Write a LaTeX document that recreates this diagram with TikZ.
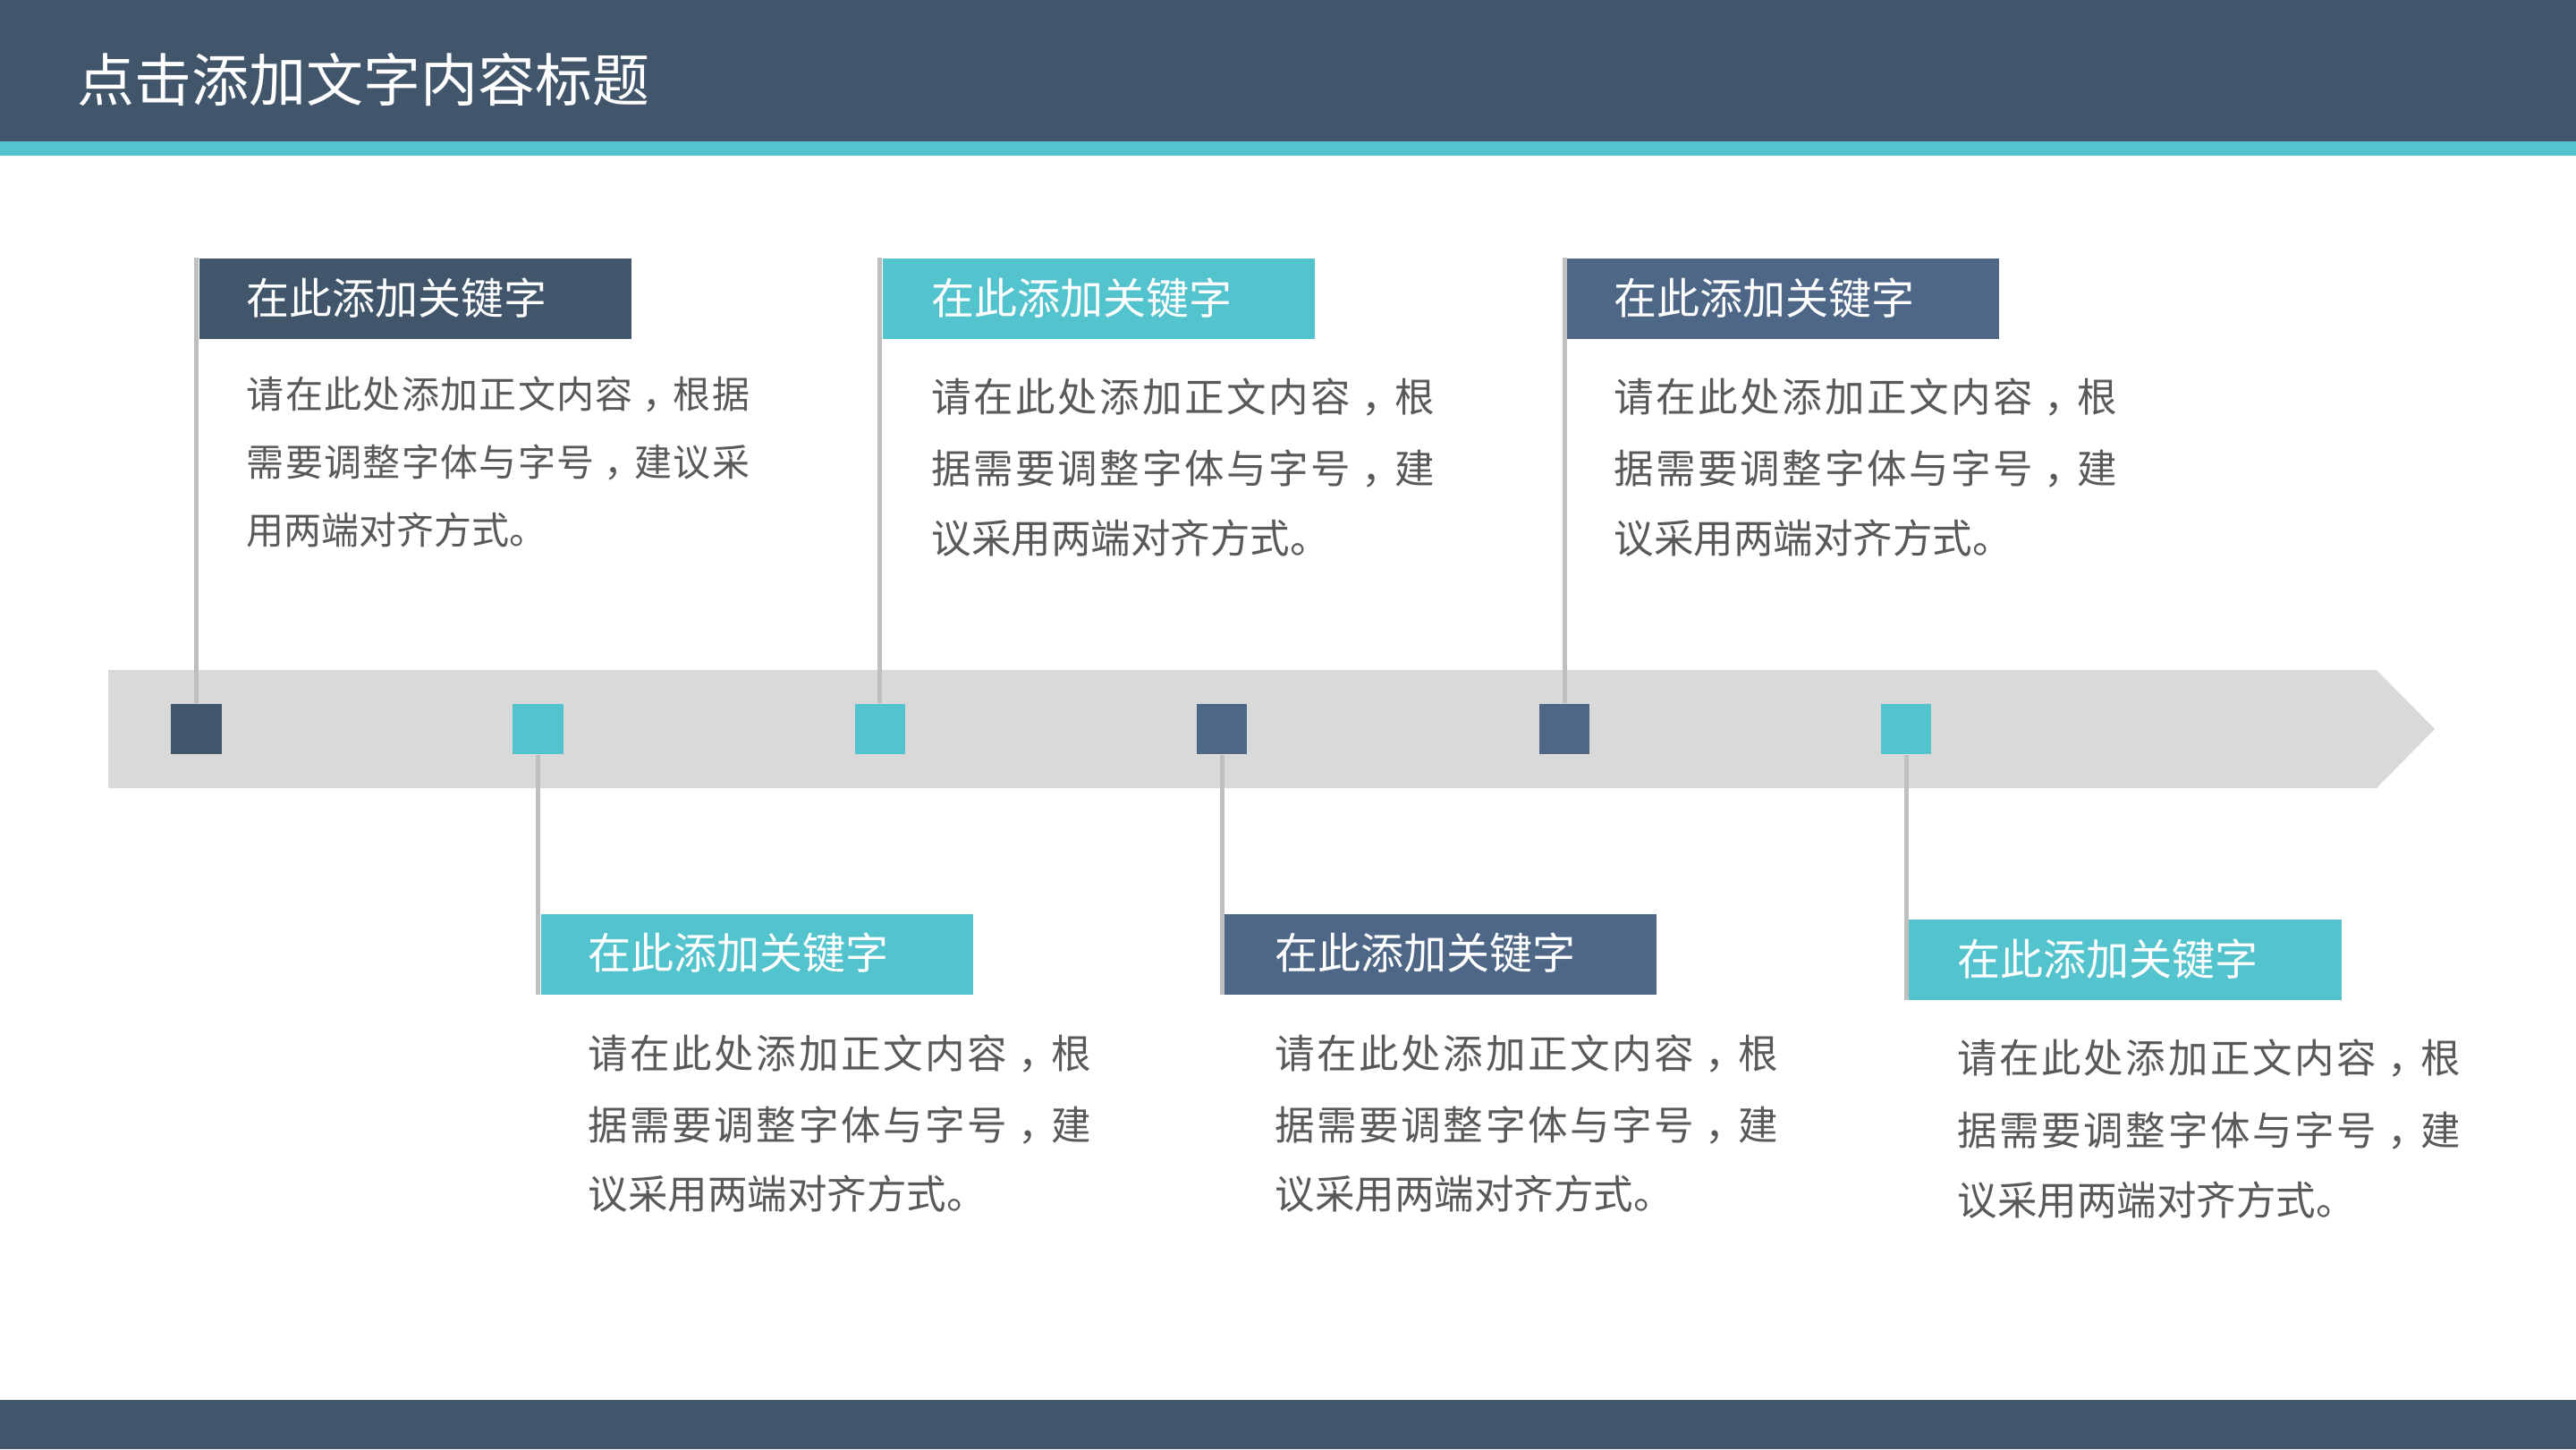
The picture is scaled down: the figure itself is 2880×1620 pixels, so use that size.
\documentclass[tikz,border=0pt]{standalone}
\usepackage{fontspec}
\setmainfont{Noto Sans CJK SC}
\definecolor{cnavy}{HTML}{41556B}
\definecolor{cteal}{HTML}{53C3CD}
\definecolor{cslate}{HTML}{4E6787}
\definecolor{cbar}{HTML}{D9D9D9}
\definecolor{cline}{HTML}{BFBFBF}
\definecolor{ctext}{HTML}{595959}
\def\cjkspread#1{\cjkspreadA#1\relax}
\def\cjkspreadA#1{#1\cjkspreadB}
\def\cjkspreadB#1{\ifx\relax#1\else\hfill#1\expandafter\cjkspreadB\fi}
\newcommand{\jline}[1]{\makebox[5.62cm][l]{\cjkspread{#1}}}
\newcommand{\cma}{\makebox[1em][l]{\hspace{0.22em}，}}
\begin{document}
\begin{tikzpicture}[x=0.01cm,y=-0.01cm,
  sq/.style={minimum size=0.56cm, inner sep=0pt, draw=none},
  kbox/.style={minimum width=4.83cm, minimum height=0.9cm, inner sep=0pt, anchor=north west, draw=none},
  ktitle/.style={anchor=base west, inner sep=0pt, text=white, font=\fontsize{13.66pt}{16pt}\selectfont},
  ktxt/.style={anchor=base west, inner sep=0pt, text=ctext, font=\fontsize{12.66pt}{15pt}\selectfont},
  ktxts/.style={anchor=base west, inner sep=0pt, text=ctext, font=\fontsize{11.95pt}{14pt}\selectfont},
  conn/.style={draw=cline, line width=0.05cm}]
\useasboundingbox (0,0) rectangle (2880,1620);
\fill[white] (0,0) rectangle (2880,1620);
% header and footer
\fill[cnavy] (0,0) rectangle (2880,158);
\fill[cteal] (0,158) rectangle (2880,174);
\fill[cnavy] (0,1565) rectangle (2880,1620);
\node[anchor=base west, inner sep=0pt, text=white, font=\fontsize{18.2pt}{22pt}\selectfont] (title) at (86,113) {点击添加文字内容标题};
% timeline bar
\fill[cbar] (121,749) -- (2657,749) -- (2722,815) -- (2657,881) -- (121,881) -- cycle;
% squares
\node[sq, fill=cnavy] (s1) at (219.5,815) {};
\node[sq, fill=cteal] (s2) at (601.5,815) {};
\node[sq, fill=cteal] (s3) at (983.6,815) {};
\node[sq, fill=cslate] (s4) at (1366,815) {};
\node[sq, fill=cslate] (s5) at (1749,815) {};
\node[sq, fill=cteal] (s6) at (2131,815) {};
% keyword boxes
\node[kbox, fill=cnavy] (b1) at (222,288) {};
\node[kbox, fill=cteal] (b2) at (986.1,288) {};
\node[kbox, fill=cslate] (b3) at (1751.5,288) {};
\node[kbox, fill=cteal] (b4) at (604,1021) {};
\node[kbox, fill=cslate] (b5) at (1368.5,1021) {};
\node[kbox, fill=cteal] (b6) at (2133.5,1027) {};
% connectors
\draw[conn] (s1.north) -- (s1.north |- b1.north);
\draw[conn] (s3.north) -- (s3.north |- b2.north);
\draw[conn] (s5.north) -- (s5.north |- b3.north);
\draw[conn] (s2.south) -- (s2.south |- b4.south);
\draw[conn] (s4.south) -- (s4.south |- b5.south);
\draw[conn] (s6.south) -- (s6.south |- b6.south);
% titles
\node[ktitle] (t1) at (275,351) {在此添加关键字};
\node[ktitle] (t2) at (1041,351) {在此添加关键字};
\node[ktitle] (t3) at (1804,351) {在此添加关键字};
\node[ktitle] (t4) at (657,1083) {在此添加关键字};
\node[ktitle] (t5) at (1425,1083) {在此添加关键字};
\node[ktitle] (t6) at (2188,1090) {在此添加关键字};
% body texts
\node[ktxts] (p1a) at (275,456) {\jline{请在此处添加正文内容\cma 根据}};
\node[ktxts] (p1b) at (275,532) {\jline{需要调整字体与字号\cma 建议采}};
\node[ktxts] (p1c) at (275,608) {用两端对齐方式。};
\node[ktxt] (p2a) at (1041,460) {\jline{请在此处添加正文内容\cma 根}};
\node[ktxt] (p2b) at (1041,540) {\jline{据需要调整字体与字号\cma 建}};
\node[ktxt] (p2c) at (1041,618) {议采用两端对齐方式。};
\node[ktxt] (p3a) at (1804,460) {\jline{请在此处添加正文内容\cma 根}};
\node[ktxt] (p3b) at (1804,540) {\jline{据需要调整字体与字号\cma 建}};
\node[ktxt] (p3c) at (1804,618) {议采用两端对齐方式。};
\node[ktxt] (p4a) at (657,1194) {\jline{请在此处添加正文内容\cma 根}};
\node[ktxt] (p4b) at (657,1274) {\jline{据需要调整字体与字号\cma 建}};
\node[ktxt] (p4c) at (657,1351) {议采用两端对齐方式。};
\node[ktxt] (p5a) at (1425,1194) {\jline{请在此处添加正文内容\cma 根}};
\node[ktxt] (p5b) at (1425,1274) {\jline{据需要调整字体与字号\cma 建}};
\node[ktxt] (p5c) at (1425,1351) {议采用两端对齐方式。};
\node[ktxt] (p6a) at (2188,1199) {\jline{请在此处添加正文内容\cma 根}};
\node[ktxt] (p6b) at (2188,1280) {\jline{据需要调整字体与字号\cma 建}};
\node[ktxt] (p6c) at (2188,1358) {议采用两端对齐方式。};
\end{tikzpicture}
\end{document}
